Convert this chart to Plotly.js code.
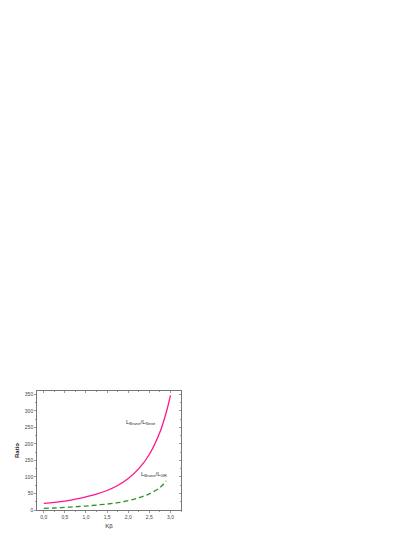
<!DOCTYPE html>
<html>
<head>
<meta charset="utf-8">
<script src="https://cdn.plot.ly/plotly-3.0.1.min.js"></script>
<style>
  html, body { margin: 0; padding: 0; background: #fff; }
  #chart { width: 415px; height: 537px; }
</style>
</head>
<body>
<div id="chart"></div>
<script>
// values
const kBeta = [0, 0.25, 0.5, 0.75, 1.0, 1.25, 1.5, 1.75, 2.0, 2.25, 2.5, 2.75, 2.9, 3.0];
const ratioNewt = [20, 23, 27, 33, 40, 48, 59, 74, 95, 125, 168, 235, 295, 347];

const kBetaGR = [0, 0.25, 0.5, 0.75, 1.0, 1.25, 1.5, 1.75, 2.0, 2.25, 2.5, 2.75, 2.9];
const ratioGR = [5, 6, 8, 10, 12, 15, 18, 22, 28, 37, 49, 68, 88];

const labelNewt = "L<sub>Brane</sub>/L<sub>Newt</sub>";
const labelGR = "L<sub>Brane</sub>/L<sub>GR</sub>";

const newtColor = "rgb(255,20,140)";
const grColor = "rgb(40,150,40)";

const fontFamily = "Liberation Sans, Arial, sans-serif";
const tickFont = { family: fontFamily, size: 5, color: "#444" };
const xRange = [-0.16, 3.25];
const yRange = [0, 360];

const makeTrace = (x, y, color, name, dash) => {
    return {
        x: x,
        y: y,
        mode: 'lines',
        name: name,
        line: { shape: 'spline', color: color, width: 1.3, dash: dash },
        type: 'scatter'
    };
};

// invisible copy so the top/right frame axes get drawn
const frameTrace = {
    x: kBeta, y: ratioNewt, xaxis: 'x2', yaxis: 'y2',
    mode: 'lines', line: { width: 0 }, opacity: 0, hoverinfo: 'skip', type: 'scatter'
};

const data = [
    makeTrace(kBeta, ratioNewt, newtColor, labelNewt, 'solid'),
    makeTrace(kBetaGR, ratioGR, grColor, labelGR, '5px,3px'),
    frameTrace
];

const axisBase = {
    showline: true,
    linecolor: '#555',
    linewidth: 0.8,
    tickcolor: '#555',
    tickwidth: 0.6,
    showgrid: false,
    zeroline: false
};

const layout = {
    width: 415,
    height: 537,
    showlegend: false,
    separators: ',.',
    paper_bgcolor: '#fff',
    plot_bgcolor: '#fff',
    margin: { l: 37, r: 234, t: 391, b: 27 },
    xaxis: Object.assign({}, axisBase, {
        range: xRange,
        dtick: 0.5,
        tick0: 0,
        tickformat: '.1f',
        ticks: 'outside',
        ticklen: 2,
        minor: { dtick: 0.25, ticks: 'outside', ticklen: 1.2, tickcolor: '#555' },
        tickfont: tickFont,
        title: { text: 'Kβ', font: { family: fontFamily, size: 6, color: '#222' }, standoff: 4 }
    }),
    yaxis: Object.assign({}, axisBase, {
        range: yRange,
        dtick: 50,
        ticks: 'outside',
        ticklen: 2,
        minor: { dtick: 25, ticks: 'outside', ticklen: 1.2, tickcolor: '#555' },
        tickfont: tickFont,
        title: { text: '<b>Ratio</b>', font: { family: fontFamily, size: 6, color: '#222' }, standoff: 4 }
    }),
    // top and right frame with inward ticks
    xaxis2: Object.assign({}, axisBase, {
        overlaying: 'x',
        side: 'top',
        anchor: 'y2',
        range: xRange,
        dtick: 0.5,
        tick0: 0,
        ticks: 'inside',
        ticklen: 2,
        minor: { dtick: 0.25, ticks: 'inside', ticklen: 1.2, tickcolor: '#555' },
        showticklabels: false
    }),
    yaxis2: Object.assign({}, axisBase, {
        overlaying: 'y',
        side: 'right',
        anchor: 'x2',
        range: yRange,
        dtick: 50,
        ticks: 'inside',
        ticklen: 2,
        minor: { dtick: 25, ticks: 'inside', ticklen: 1.2, tickcolor: '#555' },
        showticklabels: false
    }),
    annotations: [
        { x: 2.3, y: 265, text: labelNewt, showarrow: false,
          font: { family: fontFamily, size: 6, color: '#333' } },
        { x: 2.6, y: 106, text: labelGR, showarrow: false,
          font: { family: fontFamily, size: 6, color: '#333' } }
    ]
};

Plotly.newPlot('chart', data, layout, { displayModeBar: false, staticPlot: true });
</script>
</body>
</html>
